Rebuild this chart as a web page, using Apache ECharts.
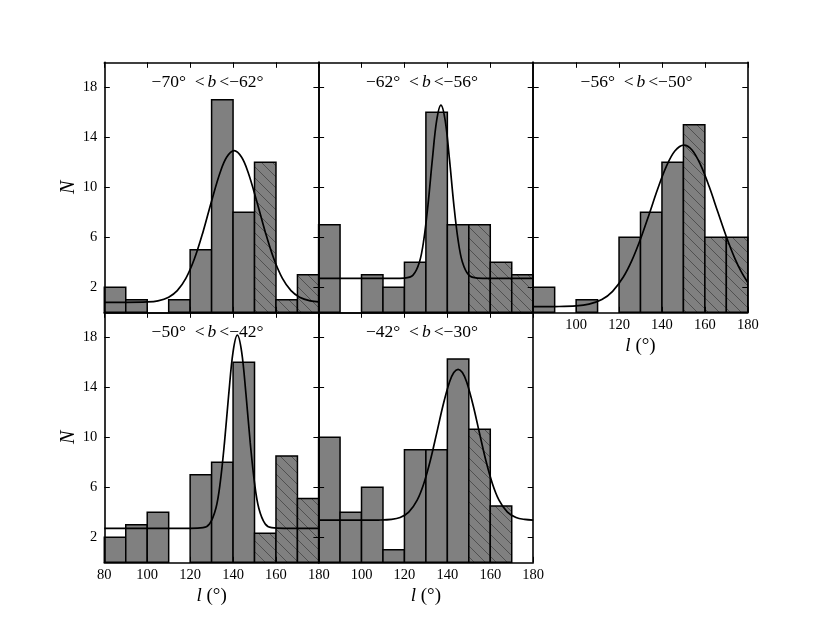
<!DOCTYPE html>
<html><head><meta charset="utf-8">
<script src="https://cdn.jsdelivr.net/npm/echarts@6/dist/echarts.min.js"></script>
<style>html,body{margin:0;padding:0;background:#fff}#c{width:830px;height:626px}</style>
</head><body><div id="c"></div>
<script>
// ---- data ----
const binEdges = [80, 90, 100, 110, 120, 130, 140, 150, 160, 170, 180];
const hatchFrom = 150;
const xTicks = [80, 100, 120, 140, 160, 180];
const yTicks = [2, 6, 10, 14, 18];

const titlesLow  = ['−70°', '−62°', '−56°', '−50°', '−42°'];
const titlesHigh = ['−62°', '−56°', '−50°', '−42°', '−30°'];

const countsA = [2, 1, 0, 1, 5, 17, 8, 12, 1, 3];
const countsB = [7, 0, 3, 2, 4, 16, 7, 7, 4, 3];
const countsC = [2, 0, 1, 0, 6, 8, 12, 15, 6, 6];
const countsD = [2, 3, 4, 0, 7, 8, 16, 2.32, 8.5, 5.1];
const countsE = [10, 4, 6, 1, 9, 9, 16.27, 10.64, 4.5, 0];

const fitA_l = [80, 90, 100, 105, 110, 114, 118, 122, 126, 130, 134, 137, 140.5, 144, 147, 151, 155, 159, 163, 167, 171, 176, 180];
const fitA_N = [0.80, 0.80, 0.83, 0.92, 1.21, 1.73, 2.71, 4.28, 6.43, 8.91, 11.20, 12.40, 12.93, 12.40, 11.20, 8.91, 6.43, 4.28, 2.71, 1.73, 1.21, 0.92, 0.84];

const fitB_l = [80, 100, 115, 120, 124, 127, 129, 131, 133, 135, 137, 139, 141, 143, 145, 147, 150, 154, 160, 180];
const fitB_N = [2.72, 2.72, 2.72, 2.74, 2.97, 4.02, 5.77, 8.64, 12.21, 15.33, 16.58, 15.33, 12.21, 8.64, 5.77, 4.02, 2.97, 2.74, 2.72, 2.72];

const fitC_l = [80, 90, 100, 106, 112, 117, 122, 126, 130, 134, 138, 142, 146, 150.2, 154, 158, 162, 166, 170, 174, 177, 180];
const fitC_N = [0.45, 0.46, 0.51, 0.65, 1.02, 1.68, 2.82, 4.15, 5.86, 7.83, 9.86, 11.65, 12.90, 13.38, 12.99, 11.80, 10.06, 8.04, 6.05, 4.30, 3.24, 2.39];

const fitD_l = [80, 110, 120, 126, 129, 132, 134, 136, 138, 140, 142, 144, 146, 148, 150, 152, 155, 158, 164, 180];
const fitD_N = [2.72, 2.72, 2.72, 2.77, 3.06, 4.33, 6.35, 9.57, 13.48, 16.84, 18.18, 16.84, 13.48, 9.57, 6.35, 4.33, 3.06, 2.77, 2.72, 2.72];

const fitE_l = [80, 100, 108, 114, 118, 122, 126, 129, 132, 135, 138, 141, 143, 145, 147, 149, 152, 155, 158, 161, 164, 168, 172, 176, 180];
const fitE_N = [3.37, 3.37, 3.38, 3.43, 3.58, 4.01, 5.0, 6.29, 8.10, 10.31, 12.57, 14.42, 15.18, 15.44, 15.18, 14.42, 12.57, 10.31, 8.10, 6.29, 5.0, 4.01, 3.58, 3.43, 3.38];

// ---- layout / style ----
const FONT = '"Liberation Serif", "DejaVu Serif", serif';
const colLeft = [104.3, 318.6, 533.2];
const rowTop = [62.3, 312.3];
const PW = 214.6, PH = 250;

const panels = [
  {counts: countsA, fl: fitA_l, fn: fitA_N, col: 0, row: 0, yLab: true,  xLab: 'none', xName: false},
  {counts: countsB, fl: fitB_l, fn: fitB_N, col: 1, row: 0, yLab: false, xLab: 'none', xName: false},
  {counts: countsC, fl: fitC_l, fn: fitC_N, col: 2, row: 0, yLab: false, xLab: 'no80', xName: true},
  {counts: countsD, fl: fitD_l, fn: fitD_N, col: 0, row: 1, yLab: true,  xLab: 'all',  xName: true},
  {counts: countsE, fl: fitE_l, fn: fitE_N, col: 1, row: 1, yLab: false, xLab: 'no80', xName: true}
];

function makeHatch() {
  const s = 11;
  const c = document.createElement('canvas');
  c.width = s; c.height = s;
  const g = c.getContext('2d');
  g.fillStyle = '#808080';
  g.fillRect(0, 0, s, s);
  g.strokeStyle = 'rgba(40,40,40,0.6)';
  g.lineWidth = 0.9;
  g.beginPath();
  for (const k of [-1, 0, 1]) {
    g.moveTo(-1, -1 + k * s);
    g.lineTo(s + 1, s + 1 + k * s);
  }
  g.stroke();
  return {image: c, repeat: 'repeat'};
}
const hatchPattern = makeHatch();

const grids = [], xAxes = [], yAxes = [], series = [], graphics = [];
const lineW = 1.6;
const tickCfg = {show: true, inside: true, length: 5.5, lineStyle: {color: '#000', width: 1}};
const axLine = {show: true, onZero: false, lineStyle: {color: '#000', width: lineW}};
const labStyle = {fontFamily: FONT, fontSize: 14.5, color: '#000'};

panels.forEach((p, i) => {
  const left = colLeft[p.col], top = rowTop[p.row];
  grids.push({left: left, top: top, width: PW, height: PH, outerBoundsMode: 'none', containLabel: false});
  xAxes.push({
    gridIndex: i, type: 'value', position: 'bottom', min: 80, max: 180, interval: 20, z: 10,
    axisLine: axLine, axisTick: tickCfg, splitLine: {show: false},
    axisLabel: Object.assign({show: p.xLab !== 'none', margin: 5,
      formatter: v => (p.xLab === 'no80' && v === 80) ? '' : String(v)}, labStyle),
    name: p.xName ? '{i|l} (°)' : '', nameLocation: 'middle', nameGap: 24,
    nameTextStyle: {fontFamily: FONT, fontSize: 19, color: '#000',
      rich: {i: {fontFamily: FONT, fontSize: 19, fontStyle: 'italic', color: '#000'}}}
  });
  xAxes.push({
    gridIndex: i, type: 'value', position: 'top', min: 80, max: 180, interval: 20, z: 10,
    axisLine: axLine, axisTick: tickCfg, axisLabel: {show: false}, splitLine: {show: false}
  });
  yAxes.push({
    gridIndex: i, type: 'value', position: 'left', min: 0, max: 20, z: 10,
    axisLine: axLine, axisTick: Object.assign({customValues: yTicks}, tickCfg), splitLine: {show: false},
    axisLabel: Object.assign({show: p.yLab, margin: 7, customValues: yTicks}, labStyle),
    name: p.yLab ? 'N' : '', nameLocation: 'middle', nameGap: 23,
    nameTextStyle: {fontFamily: FONT, fontSize: 20, fontStyle: 'italic', color: '#000'}
  });
  yAxes.push({
    gridIndex: i, type: 'value', position: 'right', min: 0, max: 20, z: 10,
    axisLine: axLine, axisTick: Object.assign({customValues: yTicks}, tickCfg),
    axisLabel: {show: false, customValues: yTicks}, splitLine: {show: false}
  });

  const barData = p.counts.map((c, k) => [binEdges[k], binEdges[k + 1], c, binEdges[k] >= hatchFrom ? 1 : 0]);
  series.push({
    type: 'custom', xAxisIndex: 2 * i, yAxisIndex: 2 * i, z: 2,
    encode: {x: [0, 1], y: 2},
    data: barData,
    renderItem: function (params, api) {
      const x0 = api.value(0), x1 = api.value(1), h = api.value(2), hatched = api.value(3);
      if (!(h > 0)) return {type: 'group', children: []};
      const tl = api.coord([x0, h]);
      const br = api.coord([x1, 0]);
      return {
        type: 'rect',
        shape: {x: tl[0], y: tl[1], width: br[0] - tl[0], height: br[1] - tl[1]},
        style: {fill: hatched ? hatchPattern : '#808080', stroke: '#000', lineWidth: 1.5}
      };
    }
  });
  series.push({
    type: 'line', xAxisIndex: 2 * i, yAxisIndex: 2 * i, z: 5,
    data: p.fl.map((l, k) => [l, p.fn[k]]),
    showSymbol: false, smooth: 0.35, silent: true,
    lineStyle: {color: '#000', width: 1.7}
  });

  graphics.push({
    type: 'text', x: left + PW / 2 - 4, y: top + 20.5, z: 100,
    style: {
      text: '{n|' + titlesLow[i] + '\u2002<}{i|b}{n|<' + titlesHigh[i] + '}',
      align: 'center', verticalAlign: 'middle',
      rich: {
        n: {fontFamily: FONT, fontSize: 17.5, fill: '#000', color: '#000'},
        i: {fontFamily: FONT, fontSize: 17.5, fontStyle: 'italic', fill: '#000', color: '#000', padding: [0, 3, 0, 3]}
      }
    }
  });
});

const chart = echarts.init(document.getElementById('c'), null, {renderer: 'canvas'});
chart.setOption({
  animation: false,
  backgroundColor: '#fff',
  textStyle: {fontFamily: FONT},
  grid: grids, xAxis: xAxes, yAxis: yAxes, series: series, graphic: graphics
});
</script></body></html>
